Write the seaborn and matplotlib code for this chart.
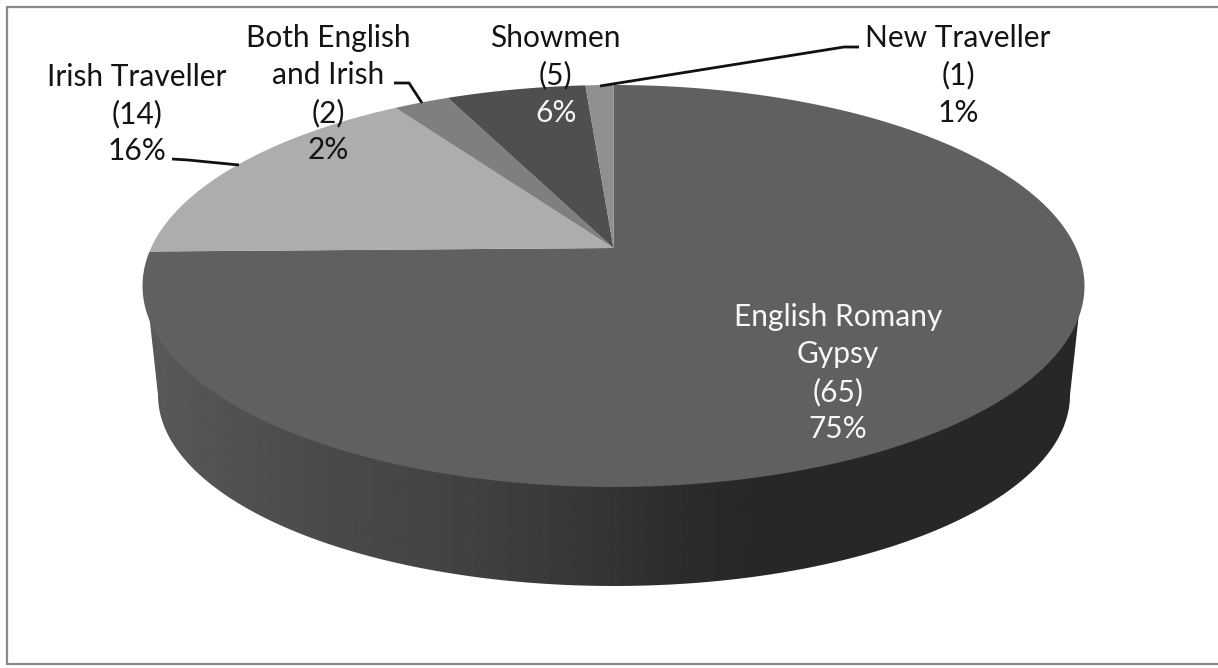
import numpy as np
import matplotlib
matplotlib.use("Agg")
import matplotlib.pyplot as plt
from matplotlib.patches import Polygon
import seaborn as sns

categories = ["English Romany Gypsy", "Irish Traveller", "Both English and Irish", "Showmen", "New Traveller"]
counts = [65, 14, 2, 5, 1]
percents = [75, 16, 2, 6, 1]
face_colors = ["#606060", "#adadad", "#7f7f7f", "#4f4f4f", "#8f8f8f"]

sns.set_theme(style="white")
plt.rcParams["font.family"] = ["Lato", "DejaVu Sans"]
W, H = 1218, 668
fig = plt.figure(figsize=(W / 100, H / 100), dpi=100, facecolor="white")
ax = fig.add_axes([0, 0, 1, 1])

palette = sns.color_palette(face_colors)
wedges, _ = ax.pie(counts, startangle=90, counterclock=False, colors=palette)

# perspective of the disc: the unit circle of the pie seen tilted
APEX_X, APEX_Y, A, B, K = 613.5, 248.0, 462.5, 193.8, 0.189


def project(deg):
    rad = np.radians(deg)
    u, v = np.cos(rad), np.sin(rad)
    w = 1 + K * v
    return APEX_X + A * u / w, APEX_Y - B * v / w


for wedge, colour in zip(wedges, palette):
    t1, t2 = wedge.theta1, wedge.theta2
    xs, ys = project(np.linspace(t1, t2, 240))
    wedge.remove()
    ax.add_patch(Polygon(np.column_stack([np.r_[APEX_X, xs], np.r_[APEX_Y, ys]]),
                         closed=True, facecolor=colour, edgecolor="none", zorder=3))

# side wall of the disc, lit from the left (its upper edge hides under the top face)
s = np.linspace(0, np.pi, 300)
top_x, top_y = 614 - 468 * np.cos(s), 286 + 190 * np.sin(s)
low_x, low_y = 614 + 456 * np.cos(s), 395 + 191 * np.sin(s)
wall = Polygon(np.column_stack([np.r_[top_x, low_x], np.r_[top_y, low_y]]), closed=True,
               facecolor="none", edgecolor="none", transform=ax.transData)
ax.add_patch(wall)
shade = np.interp(np.arange(W), [140, 300, 450, 600, 680, 760, 1090],
                  [0x5a, 0x4c, 0x43, 0x35, 0x2c, 0x27, 0x27]) / 255
img = ax.imshow(shade[None, :], extent=(0, W, H, 0), cmap="gray", vmin=0, vmax=1,
                aspect="auto", zorder=2, interpolation="bilinear")
img.set_clip_path(wall)

# frame
ax.plot([W, 7, 7, W], [7, 7, 664, 664], color="#8a8a8a", lw=1.6, zorder=1,
        solid_joinstyle="miter")

# leader lines
LEADER = dict(color="#111111", lw=2.0, zorder=4, solid_capstyle="butt")
ax.plot([172, 188, 239], [159, 160, 165], **LEADER)
ax.plot([394, 409, 422], [83, 83, 103], **LEADER)
ax.plot([859, 844, 600], [47, 47, 86], **LEADER)

# labels
DARK, LIGHT = "#141414", "#f8f8f8"
FS = 21.5


def label(x, y, s, colour=DARK):
    ax.text(x, y, s, ha="center", va="center", fontsize=FS, color=colour, zorder=5)


label(838, 317, "English Romany", LIGHT)
label(838, 354, "Gypsy", LIGHT)
label(838, 392, f"({counts[0]})", LIGHT)
label(838, 429, f"{percents[0]}%", LIGHT)

label(137, 77, "Irish Traveller")
label(137, 114, f"({counts[1]})")
label(137, 151, f"{percents[1]}%")

label(328, 38, "Both English")
label(328, 75, "and Irish")
label(328, 113, f"({counts[2]})")
label(328, 150, f"{percents[2]}%")

label(555, 38, categories[3])
label(555, 75, f"({counts[3]})")
label(556, 113, f"{percents[3]}%", LIGHT)

label(958, 38, categories[4])
label(958, 75, f"({counts[4]})")
label(958, 113, f"{percents[4]}%")

ax.set_aspect("auto")
ax.set_xlim(0, W)
ax.set_ylim(H, 0)
ax.axis("off")
fig.savefig("out.png", dpi=100, facecolor="white")
